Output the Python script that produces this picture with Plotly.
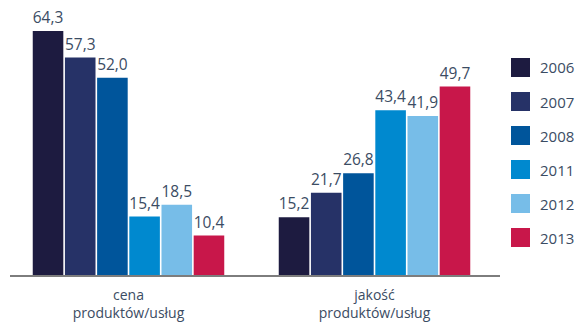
import plotly.graph_objects as go

# Survey results: share of answers per factor, by year
categories = ["cena<br>produktów/usług", "jakość<br>produktów/usług"]
years = ["2006", "2007", "2008", "2011", "2012", "2013"]
values = {
    "2006": [64.3, 15.2],
    "2007": [57.3, 21.7],
    "2008": [52.0, 26.8],
    "2011": [15.4, 43.4],
    "2012": [18.5, 41.9],
    "2013": [10.4, 49.7],
}
colors = ["#1d1b40", "#263267", "#00559b", "#0089cf", "#77bde8", "#c8174a"]

TEXT = "#3b4c63"
FONT = "Open Sans"

fig = go.Figure()

for year, color in zip(years, colors):
    vals = values[year]
    fig.add_trace(go.Bar(
        x=categories,
        y=vals,
        name=year,
        marker=dict(color=color, line=dict(width=0)),
        text=[f"{v:.1f}".replace(".", ",") for v in vals],
        textposition="outside",
        textfont=dict(family=FONT, size=16, color=TEXT),
        cliponaxis=False,
        showlegend=False,
        hoverinfo="skip",
    ))

# Legend drawn as square markers on its own small axis pair
fig.add_trace(go.Scatter(
    x=[0] * len(years),
    y=list(range(len(years))),
    mode="markers",
    marker=dict(symbol="square", size=19, color=colors, line=dict(width=0)),
    xaxis="x2",
    yaxis="y2",
    showlegend=False,
    hoverinfo="skip",
))
for i, year in enumerate(years):
    fig.add_annotation(
        x=0, y=i, xref="x2", yref="y2",
        text=year, showarrow=False,
        xanchor="left", yanchor="middle", xshift=17,
        font=dict(family=FONT, size=15, color=TEXT),
    )

fig.update_layout(
    width=575,
    height=322,
    margin=dict(l=0, r=0, t=0, b=0, autoexpand=False),
    paper_bgcolor="white",
    plot_bgcolor="white",
    barmode="group",
    bargap=0.215,
    bargroupgap=0.05,
    xaxis=dict(
        domain=[10 / 575, 1],
        type="category",
        range=[-0.4817, 1.815],
        showline=True,
        linecolor="#7d7d7d",
        linewidth=2,
        ticks="",
        showgrid=False,
        zeroline=False,
        automargin=False,
        tickfont=dict(family=FONT, size=14, color=TEXT),
        ticklabelstandoff=6,
    ),
    yaxis=dict(
        domain=[47 / 322, 1],
        range=[0, 72.46],
        visible=False,
        showgrid=False,
        zeroline=False,
        automargin=False,
    ),
    xaxis2=dict(
        domain=[500 / 575, 1],
        range=[-20.5, 54.5],
        visible=False,
        anchor="y2",
    ),
    yaxis2=dict(
        domain=[0, 1],
        range=[7.485, -1.985],
        visible=False,
        anchor="x2",
    ),
)

fig.write_html("out.html")
